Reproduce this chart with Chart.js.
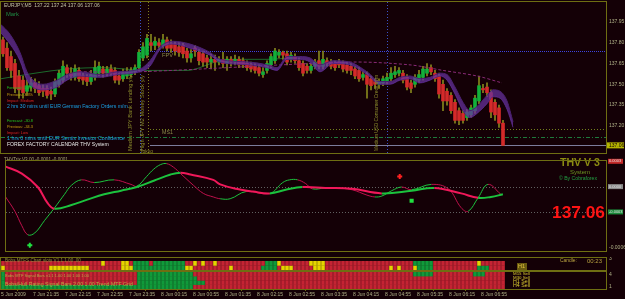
<!DOCTYPE html>
<html><head><meta charset="utf-8">
<script src="https://cdn.jsdelivr.net/npm/chart.js@4.4.0/dist/chart.umd.min.js"></script>
<style>
html,body{margin:0;padding:0;background:#140006;width:625px;height:299px;overflow:hidden}
.p{position:absolute;left:0;width:625px}
canvas{display:block}
</style></head><body>
<div class="p" style="top:0;height:155px"><canvas id="c1" width="625" height="155"></canvas></div>
<div class="p" style="top:155px;height:102px"><canvas id="c2" width="625" height="102"></canvas></div>
<div class="p" style="top:257px;height:14px"><canvas id="c3" width="625" height="14"></canvas></div>
<div class="p" style="top:271px;height:28px"><canvas id="c4" width="625" height="28"></canvas></div>
<script>
// ---------------- DATA ----------------
const symbol = 'EURJPY,M5';
const opens = [137.82,137.76,137.70,137.65,137.56,137.53,137.45,137.48,137.51,137.49,137.47,137.47,137.45,137.43,137.50,137.53,137.62,137.58,137.55,137.60,
137.56,137.55,137.52,137.55,137.58,137.61,137.58,137.61,137.60,137.56,137.54,137.56,137.57,137.59,137.62,137.69,137.71,137.80,137.78,137.80,
137.78,137.82,137.79,137.79,137.77,137.78,137.74,137.69,137.76,137.73,137.72,137.69,137.66,137.68,137.66,137.68,137.65,137.68,137.66,137.68,
137.67,137.65,137.64,137.63,137.62,137.57,137.60,137.64,137.67,137.71,137.73,137.72,137.68,137.70,137.67,137.65,137.63,137.60,137.63,137.67,
137.63,137.67,137.66,137.65,137.66,137.65,137.64,137.63,137.61,137.60,137.55,137.57,137.54,137.52,137.50,137.51,137.52,137.54,137.57,137.58,
137.58,137.55,137.51,137.50,137.53,137.55,137.58,137.62,137.58,137.56,137.50,137.45,137.42,137.37,137.31,137.29,137.26,137.28,137.31,137.38,
137.47,137.48,137.44,137.37,137.33,137.22];
const highs = [137.84,137.80,137.74,137.68,137.60,137.56,137.53,137.55,137.54,137.52,137.50,137.49,137.48,137.54,137.60,137.67,137.64,137.62,137.64,137.62,
137.58,137.57,137.60,137.67,137.66,137.63,137.63,137.64,137.62,137.58,137.61,137.62,137.62,137.64,137.75,137.80,137.86,137.86,137.84,137.83,
137.86,137.84,137.82,137.81,137.80,137.80,137.76,137.75,137.78,137.75,137.74,137.71,137.72,137.71,137.70,137.73,137.70,137.70,137.71,137.70,
137.69,137.67,137.66,137.65,137.64,137.62,137.67,137.72,137.76,137.75,137.74,137.74,137.73,137.72,137.69,137.67,137.65,137.65,137.68,137.74,
137.74,137.69,137.68,137.67,137.68,137.67,137.66,137.65,137.63,137.62,137.59,137.59,137.56,137.54,137.54,137.56,137.58,137.62,137.63,137.62,
137.60,137.57,137.53,137.57,137.60,137.63,137.65,137.64,137.60,137.58,137.53,137.47,137.44,137.39,137.33,137.31,137.32,137.35,137.42,137.56,
137.50,137.51,137.46,137.39,137.35,137.24];
const lows = [137.70,137.60,137.55,137.44,137.40,137.40,137.42,137.45,137.44,137.42,137.41,137.40,137.39,137.41,137.48,137.51,137.55,137.53,137.53,137.52,
137.50,137.49,137.50,137.53,137.56,137.55,137.56,137.56,137.51,137.50,137.52,137.54,137.55,137.57,137.60,137.67,137.69,137.74,137.75,137.75,
137.76,137.74,137.73,137.71,137.70,137.69,137.66,137.66,137.70,137.64,137.63,137.62,137.61,137.60,137.64,137.62,137.60,137.63,137.64,137.62,
137.62,137.60,137.59,137.58,137.56,137.55,137.58,137.62,137.65,137.69,137.68,137.64,137.66,137.65,137.60,137.56,137.58,137.58,137.61,137.61,
137.61,137.63,137.61,137.60,137.62,137.59,137.58,137.57,137.54,137.52,137.53,137.40,137.46,137.47,137.47,137.49,137.50,137.52,137.55,137.56,
137.51,137.46,137.44,137.48,137.51,137.53,137.56,137.57,137.52,137.40,137.31,137.35,137.29,137.22,137.21,137.22,137.24,137.26,137.29,137.36,
137.44,137.41,137.26,137.24,137.19,137.06];
const closes = [137.72,137.62,137.60,137.47,137.46,137.44,137.49,137.51,137.47,137.44,137.45,137.42,137.43,137.52,137.58,137.63,137.58,137.56,137.61,137.54,
137.53,137.52,137.57,137.62,137.63,137.58,137.61,137.58,137.53,137.53,137.58,137.59,137.60,137.62,137.73,137.77,137.83,137.78,137.81,137.78,
137.82,137.76,137.76,137.74,137.73,137.72,137.69,137.72,137.74,137.67,137.66,137.66,137.68,137.66,137.68,137.65,137.68,137.66,137.68,137.64,
137.64,137.62,137.61,137.60,137.58,137.59,137.65,137.70,137.74,137.73,137.71,137.66,137.71,137.67,137.62,137.58,137.60,137.63,137.66,137.63,
137.68,137.65,137.63,137.62,137.64,137.61,137.60,137.60,137.56,137.54,137.57,137.50,137.49,137.50,137.52,137.54,137.55,137.58,137.59,137.60,
137.53,137.48,137.47,137.55,137.57,137.61,137.61,137.59,137.54,137.43,137.38,137.38,137.31,137.24,137.24,137.24,137.30,137.33,137.40,137.49,
137.46,137.44,137.30,137.28,137.22,137.06];

// purple envelope cloud (x in bar units)
const cloudX = [-0.5,1.75,4.25,6,7.5,10,13.5,16,19.25,24.25,28.5,34.25,36.75,39.25,42.5,46.75,51.75,54.25,61.75,66,68.5,71,74.25,76.75,79.25,82.5,86.75,91,94.25,96.75,99.25,101.75,104.25,106.75,109.25,111,113,115,116.75,118.5,121,122.5,124.25,126,127.5];
const cloudUpper = [137.93,137.86,137.73,137.59,137.53,137.50,137.53,137.57,137.59,137.57,137.59,137.61,137.67,137.77,137.81,137.79,137.73,137.68,137.66,137.64,137.62,137.70,137.70,137.69,137.64,137.67,137.66,137.59,137.52,137.52,137.55,137.56,137.54,137.55,137.58,137.57,137.48,137.37,137.31,137.34,137.42,137.46,137.45,137.38,137.23];
const cloudLower = [137.87,137.79,137.67,137.53,137.48,137.46,137.48,137.53,137.56,137.55,137.57,137.59,137.63,137.75,137.79,137.76,137.71,137.66,137.64,137.62,137.60,137.68,137.68,137.66,137.59,137.65,137.64,137.57,137.50,137.50,137.53,137.54,137.51,137.53,137.56,137.53,137.43,137.31,137.26,137.29,137.36,137.41,137.40,137.32,137.19];
// dark green slow average
const maX = [-0.5,8,16,25,36,46,52,55,66,72];
const maY = [137.54,137.58,137.61,137.62,137.60,137.60,137.65,137.68,137.68,137.69];
// dashed purple trend
const trendX = [19,34,87,101.75,110,118.5,124.75];
const trendY = [137.59,137.59,137.66,137.64,137.60,137.56,137.51];

const priceTicks = [137.20,137.35,137.50,137.65,137.80,137.95];
const levelNames = ['FPV','MS1'];
const levelValues = [137.74,137.18];
const supportLevel = 137.12;
const eventIdx = [34.25,36.25,96];
const eventText = ['Medium JPY Bank Lending y/y','High JPY M2 Money Stock y/y','Medium USD Consumer Credit m/m'];

// THV Trix oscillator (x in bar units, values in 1e-4)
const trixSlowX = [-0.75,3.5,7.5,10,11.75,16,20,24.25,28.5,32.5,36.75,41,43.5,46,51.75,53.5,57.5,61.75,66,70,74.25,80,86.75,94.25,101.75,107.5,114.25,118.5,121.75,124.75];
const trixSlow = [2.0,1.29,-0.04,-1.64,-2.18,-1.82,-1.29,-0.76,-0.40,-0.04,0.58,1.2,1.38,1.2,0.67,0.22,-0.22,-0.49,-0.67,-0.31,-0.04,-0.13,-0.22,-0.67,-0.4,-0.13,-0.67,-1.11,-1.02,-0.76];
const trixFastX = [-0.75,1.75,3.5,5,6.75,9.25,11.75,14.25,16,18.5,21.75,26.75,31,32.5,35,36.75,38.5,40,41.75,43.5,46.75,49.25,51.75,53.5,56,60,66,69.25,71,73,75,76.75,80,82.5,86.75,90.5,92.5,94.25,96.75,99.25,101.75,106.75,111,114.25,116,118.5,121,124.25];
const trixFast = [-0.93,-2.44,-3.87,-4.76,-4.58,-3.33,-2.09,-0.76,0.13,0.67,0.4,0.67,0.22,0.04,1.02,1.73,2.18,2.27,1.91,1.29,0.13,-0.67,-1.02,-1.2,-1.2,-0.49,-0.67,0.4,0.67,0.67,0.31,-0.22,-0.13,-0.13,-0.31,-0.84,-1.02,-0.93,-0.4,-0.04,-0.31,0.22,-0.22,-2.09,-2.44,-1.11,0.22,-0.76];
const signalX = [5.5,98.75,101.75];
const signalY = [-5.8,1.0,-1.4];
const signalType = ['buy','sell','dot'];
const trixLevels = [0,-2.5];

// MTF cell panels (run lengths: count, state)
const mtfRowA = [[25,'R'],[1,'Y'],[4,'R'],[2,'Y'],[1,'R'],[4,'G'],[1,'R'],[8,'G'],[2,'R'],[1,'Y'],[1,'R'],[1,'Y'],[2,'R'],[1,'Y'],[12,'R'],[3,'G'],[1,'Y'],[7,'R'],[4,'Y'],[22,'R'],[5,'G'],[11,'R'],[1,'Y'],[6,'R']];
const mtfRowB = [[1,'Y'],[11,'R'],[10,'Y'],[8,'R'],[3,'Y'],[13,'G'],[2,'Y'],[9,'R'],[1,'Y'],[7,'R'],[4,'G'],[1,'R'],[3,'Y'],[5,'R'],[3,'Y'],[16,'R'],[1,'Y'],[1,'R'],[1,'Y'],[3,'R'],[1,'Y'],[4,'G'],[11,'R'],[3,'G'],[4,'R']];
const sigRow4 = [[1,'G'],[33,'R'],[14,'G'],[55,'R'],[5,'G'],[10,'R'],[3,'G'],[5,'R']];
const sigRow3 = [[1,'G'],[33,'R'],[15,'G'],[77,'R']];
const sigRow2 = [[1,'G'],[33,'R'],[17,'G'],[75,'R']];
const sigRow1 = [[48,'G'],[78,'R']];

const timeIdx = [0,8,16,24,32,40,48,56,64,72,80,88,96,104,112,120];
const timeLabels = ['5 Jun 2009','7 Jun 21:35','7 Jun 22:15','7 Jun 22:55','7 Jun 23:35','8 Jun 00:15','8 Jun 00:55','8 Jun 01:35','8 Jun 02:15','8 Jun 02:55','8 Jun 03:35','8 Jun 04:15','8 Jun 04:55','8 Jun 05:35','8 Jun 06:15','8 Jun 06:55'];

// ---------------- STYLE ----------------
const FONT = "'Liberation Sans', Arial, sans-serif";
const FRAME = '#6e6e12';
const AXTXT = '#b0b088';
const XMIN = -0.5, XMAX = 150.75;
const STATE_COL = {R:'#c42433', G:'#109a3a', Y:'#e6d400'};

function expand(runs){ const out=[]; runs.forEach(([n,s])=>{ for(let k=0;k<n;k++) out.push(s); }); return out; }
function fitText(ctx, s, x, y, w, color, weight){
  ctx.font = `${weight||'normal'} 10px ${FONT}`;
  const m = ctx.measureText(s).width;
  ctx.font = `${weight||'normal'} ${(10*w/m).toFixed(2)}px ${FONT}`;
  ctx.fillStyle = color; ctx.textBaseline = 'middle'; ctx.textAlign = 'left';
  ctx.fillText(s, x, y);
}
const framePlugin = {
  id:'frame',
  afterDraw(chart){
    const {ctx, chartArea:a} = chart;
    ctx.save(); ctx.strokeStyle = FRAME; ctx.lineWidth = 1; ctx.setLineDash([]);
    ctx.strokeRect(a.left-0.5, a.top-0.5, a.right-a.left+1, a.bottom-a.top+1);
    ctx.restore();
  }
};
const yAxisBase = (min,max,ticks,fmt)=>({
  position:'right', min, max,
  grid:{display:false, drawTicks:false}, border:{display:false},
  ticks:{color:AXTXT, font:{size:5, family:FONT}, padding:3, callback: fmt},
  afterBuildTicks: s => { s.ticks = ticks.map(v=>({value:v})); },
  afterFit: s => { s.width = 19; s.paddingTop = 0; s.paddingBottom = 0; }
});
const baseOpts = {responsive:false, animation:false, devicePixelRatio:1,
  plugins:{legend:{display:false}, tooltip:{enabled:false}}};

Chart.defaults.font.family = FONT;

// ---------------- MAIN PRICE PANEL ----------------
const N = opens.length;
const barIdx = opens.map((_,i)=>i);
const lastClose = closes[N-1];

const mainPlugin = {
  id:'mainExtras',
  beforeDatasetsDraw(chart){
    const {ctx, chartArea:a, scales:{x,y}} = chart;
    ctx.save();
    ctx.beginPath(); ctx.rect(a.left,a.top,a.right-a.left,a.bottom-a.top); ctx.clip();
    const startX = x.getPixelForValue(eventIdx[1]) + 2;
    const vcols = ['#3a52c8','#80801c','#3a52c8'];
    eventIdx.forEach((e,i)=>{
      const px = Math.round(x.getPixelForValue(e))+0.5;
      ctx.strokeStyle = vcols[i]; ctx.setLineDash([1,2]); ctx.lineWidth=1;
      ctx.beginPath(); ctx.moveTo(px,a.top); ctx.lineTo(px,a.bottom); ctx.stroke();
    });
    const lcols = ['#3c44dc','#72801a'];
    levelValues.forEach((v,i)=>{
      const py = Math.round(y.getPixelForValue(v))+0.5;
      ctx.strokeStyle = lcols[i]; ctx.setLineDash(i===0?[1,1]:[1,2]);
      ctx.beginPath(); ctx.moveTo(startX,py); ctx.lineTo(a.right,py); ctx.stroke();
    });
    let py = Math.round(y.getPixelForValue(supportLevel))+0.5;
    ctx.strokeStyle = '#1e7a3c'; ctx.setLineDash([4,2,1,2]);
    ctx.beginPath(); ctx.moveTo(a.left,py); ctx.lineTo(a.right,py); ctx.stroke();
    py = Math.round(y.getPixelForValue(lastClose))+0.5;
    ctx.strokeStyle = '#7c7c9c'; ctx.setLineDash([]);
    ctx.beginPath(); ctx.moveTo(startX,py); ctx.lineTo(a.right,py); ctx.stroke();
    ctx.restore();
  },
  afterDatasetsDraw(chart){
    const {ctx, chartArea:a, scales:{x,y}} = chart;
    ctx.save();
    const o = opens[N-1].toFixed(2), h = highs[N-1].toFixed(2), l = lows[N-1].toFixed(2), c = closes[N-1].toFixed(2);
    fitText(ctx, `${symbol}  ${o} ${h} ${l} ${c}`, 4, 6, 96, '#c4c4a4');
    fitText(ctx, 'Mark', 6, 14, 13, '#1f8a44');
    const cal = [
      ['Forecast: 5.0%', 88, 25, '#22c622'],
      ['Previous: 3.3%', 94.5, 26, '#c8a010'],
      ['Impact: Medium', 100.5, 27, '#e02424'],
      ['2 hrs 30 mins until EUR German Factory Orders m/m', 106.5, 121, '#1aa0e6'],
      ['Forecast: -30.8', 121, 26, '#22c622'],
      ['Previous: -34.3', 127, 26, '#c8a010'],
      ['Impact: Low', 132.5, 21, '#e02424'],
      ['1 hrs 0 mins until EUR Sentix Investor Confidence', 138.5, 118, '#1aa0e6'],
      ['FOREX FACTORY CALENDAR THV System', 144.5, 102, '#e8e8e8']
    ];
    cal.forEach(([s,yy,w,col])=>fitText(ctx, s, 7, yy, w, col));
    const startX = x.getPixelForValue(eventIdx[1]) + 14;
    levelNames.forEach((n,i)=>{
      fitText(ctx, n, startX, y.getPixelForValue(levelValues[i])+4, 11, '#8a8a4a');
    });
    const rx = [-2.5,-1.5,-2.5];
    eventText.forEach((s,i)=>{
      ctx.save();
      ctx.translate(x.getPixelForValue(eventIdx[i]) + rx[i]*4, a.bottom-2);
      ctx.rotate(-Math.PI/2);
      fitText(ctx, s, 0, 0, 76, '#8c8c2c');
      ctx.restore();
    });
    fitText(ctx, 'Tokyo', x.getPixelForValue(eventIdx[0]), a.bottom-1, 13, '#8c8c2c');
    const py = y.getPixelForValue(lastClose);
    ctx.fillStyle = '#b4b400'; ctx.fillRect(a.right+1, py-3, 17, 6);
    ctx.font = `5px ${FONT}`; ctx.fillStyle = '#140006'; ctx.textBaseline='middle'; ctx.textAlign='left';
    ctx.fillText(lastClose.toFixed(2), a.right+3, py);
    ctx.restore();
  }
};

new Chart(document.getElementById('c1'), {
  type:'bar',
  data:{datasets:[
    {type:'line', data: cloudX.map((v,i)=>({x:v,y:cloudUpper[i]})), borderColor:'#4a2070', borderWidth:1,
     backgroundColor:'rgba(104,50,160,0.72)', fill:'+1', pointRadius:0, cubicInterpolationMode:'monotone', order:0},
    {type:'line', data: cloudX.map((v,i)=>({x:v,y:cloudLower[i]})), borderColor:'#4a2070', borderWidth:1,
     fill:false, pointRadius:0, cubicInterpolationMode:'monotone', order:0},
    {type:'line', data: trendX.map((v,i)=>({x:v,y:trendY[i]})), borderColor:'#8a2a78', borderWidth:1, borderDash:[3,2],
     fill:false, pointRadius:0, tension:0.3, order:0},
    {type:'line', data: maX.map((v,i)=>({x:v,y:maY[i]})), borderColor:'#1c6a2c', borderWidth:1,
     fill:false, pointRadius:0, cubicInterpolationMode:'monotone', order:3},
    {type:'bar', data: barIdx.map(i=>({x:i, y:[lows[i],highs[i]]})), backgroundColor:'#86861c',
     barThickness:1, grouped:false, order:2},
    {type:'bar', data: barIdx.map(i=>({x:i, y:[opens[i],closes[i]]})),
     backgroundColor: barIdx.map(i=> closes[i]>=opens[i] ? '#12b03a' : '#d42a2a'),
     barThickness:3, grouped:false, order:1}
  ]},
  options:{...baseOpts,
    layout:{padding:{top:2,bottom:2,left:1,right:0}},
    scales:{
      x:{type:'linear', min:XMIN, max:XMAX, display:false, offset:false},
      y: yAxisBase(137.005, 138.093, priceTicks, v=>Number(v).toFixed(2))
    }},
  plugins:[mainPlugin, framePlugin]
});

// ---------------- THV TRIX PANEL ----------------
const UP = '#1cc23e', DOWN_T = '#f0185a', DOWN_F = '#c0104c';
const oscPlugin = {
  id:'oscExtras',
  beforeDatasetsDraw(chart){
    const {ctx, chartArea:a, scales:{y}} = chart;
    ctx.save(); ctx.strokeStyle='#606060'; ctx.setLineDash([1,2]); ctx.lineWidth=1;
    trixLevels.forEach(v=>{
      const py = Math.round(y.getPixelForValue(v*1e-4))+0.5;
      ctx.beginPath(); ctx.moveTo(a.left,py); ctx.lineTo(a.right,py); ctx.stroke();
    });
    ctx.restore();
  },
  afterDatasetsDraw(chart){
    const {ctx, chartArea:a, scales:{y}} = chart;
    ctx.save();
    const ls = (trixSlow[trixSlow.length-1]*1e-4).toFixed(4), lf = (trixFast[trixFast.length-1]*1e-4).toFixed(4);
    fitText(ctx, `THVTrix V3.00 ${ls} ${lf}`, 4, 5, 64, '#a4a478');
    fitText(ctx, 'THV V 3', 560, 8, 40, '#8c8c12', 'bold');
    fitText(ctx, 'System', 570, 17, 20, '#6c9422');
    fitText(ctx, '\u00a9 By Cobraforex', 559, 24, 38, '#22a044');
    fitText(ctx, lastClose.toFixed(2), 552, 58.5, 53, '#ff1414', 'bold');
    const boxes = [[2.5,'#c42a2a','0.0003'],[0,'#8a8a8a','0.0000'],[-2.5,'#1a8a3a','-0.0003']];
    boxes.forEach(([v,col,s])=>{
      const py = y.getPixelForValue(v*1e-4);
      ctx.fillStyle = col; ctx.fillRect(a.right+2, py-2.5, 15, 5);
      ctx.font = `4px ${FONT}`; ctx.fillStyle = '#e0e0e0'; ctx.textBaseline='middle'; ctx.textAlign='left';
      ctx.fillText(s, a.right+3, py);
    });
    ctx.restore();
  }
};
const segCol = (down)=>({borderColor: c => c.p1.parsed.y >= c.p0.parsed.y ? UP : down});
new Chart(document.getElementById('c2'), {
  type:'line',
  data:{datasets:[
    {data: trixSlowX.map((v,i)=>({x:v,y:trixSlow[i]*1e-4})), borderWidth:2, borderColor:DOWN_T, segment:segCol(DOWN_T), pointRadius:0, tension:0.4, fill:false},
    {data: trixFastX.map((v,i)=>({x:v,y:trixFast[i]*1e-4})), borderWidth:1, borderColor:DOWN_F, segment:segCol(DOWN_F), pointRadius:0, tension:0.4, fill:false},
    {type:'scatter', data: signalX.map((v,i)=>({x:v,y:signalY[i]*1e-4})), showLine:false,
     pointStyle: signalType.map(t=> t==='dot' ? 'rect' : 'cross'),
     pointRadius: signalType.map(t=> t==='dot' ? 1.5 : 2.5), borderWidth: 2,
     borderColor: signalType.map(t=> t==='sell' ? '#ff2020' : '#20e040'),
     backgroundColor: signalType.map(t=> t==='sell' ? '#ff2020' : '#20e040')}
  ]},
  options:{...baseOpts,
    layout:{padding:{top:1,bottom:1,left:1,right:0}},
    scales:{
      x:{type:'linear', min:XMIN, max:XMAX, display:false},
      y: yAxisBase(-0.000636, 0.000253, [-0.0006], v=>Number(v).toFixed(4))
    }},
  plugins:[oscPlugin, framePlugin]
});

// ---------------- MTF CELL PANELS ----------------
function cellSet(runs, row){
  const st = expand(runs);
  return {type:'bar', data: st.map((s,i)=>({x:i, y:[row-0.46,row+0.46]})),
    backgroundColor: st.map(s=>STATE_COL[s]), barThickness:3, grouped:false};
}
new Chart(document.getElementById('c3'), {
  type:'bar',
  data:{datasets:[cellSet(mtfRowA,2), cellSet(mtfRowB,1)]},
  options:{...baseOpts,
    layout:{padding:{top:1,bottom:1,left:1,right:0}},
    scales:{
      x:{type:'linear', min:XMIN, max:XMAX, display:false, offset:false},
      y: yAxisBase(0.5, 3.2, [3,1], v=>String(v))
    }},
  plugins:[framePlugin, {id:'p3', afterDatasetsDraw(chart){
    const {ctx} = chart;
    fitText(ctx, 'Bobs MTFS Chart slots V1.1 1.00 .00', 5, 3.5, 76, '#8c8c3c');
    fitText(ctx, 'Candle:', 560, 4, 17, '#b8a040');
    fitText(ctx, '00:23', 587, 4, 15, '#b8a040');
    ctx.fillStyle='#6a5a10'; ctx.fillRect(517,6,10,7);
    fitText(ctx, 'H1', 518, 9.5, 7, '#e0c040');
  }}]
});

new Chart(document.getElementById('c4'), {
  type:'bar',
  data:{datasets:[cellSet(sigRow4,4), cellSet(sigRow3,3), cellSet(sigRow2,2), cellSet(sigRow1,1)]},
  options:{...baseOpts,
    layout:{padding:{top:1,bottom:0,left:1,right:0}},
    scales:{
      x:{type:'linear', min:XMIN, max:XMAX, offset:false, position:'bottom',
         grid:{display:true, drawOnChartArea:false, drawTicks:true, tickLength:2, color:FRAME},
         border:{display:true, color:FRAME},
         ticks:{align:'start', autoSkip:false, maxRotation:0, color:AXTXT, font:{size:5, family:FONT}, padding:1,
                callback:(v,i)=>timeLabels[i]},
         afterBuildTicks: s => { s.ticks = timeIdx.map(v=>({value:v-0.5})); },
         afterFit: s => { s.height = 10; s.paddingLeft = 0; s.paddingRight = 0; }},
      y: yAxisBase(0.5, 4.5, [4,1], v=>String(v))
    }},
  plugins:[framePlugin, {id:'p4', afterDatasetsDraw(chart){
    const {ctx} = chart;
    fitText(ctx, 'Bobs MTF Signal Bars v1.1 1.00 1.00 1.00 1.00', 5, 5, 84, '#b8a848');
    fitText(ctx, 'Bobs/Hull Rating Signal Bars 2.00 1.00 Trend MTF Grid', 5, 14, 128, '#b8a848');
    const sig = ['M15 Sell','M30 Sell','H1 Sell','H4 Sell'];
    sig.forEach((s,i)=>fitText(ctx, s, 513, 3+i*3.7, 17, '#d8c830'));
  }}]
});
</script>
</body></html>
